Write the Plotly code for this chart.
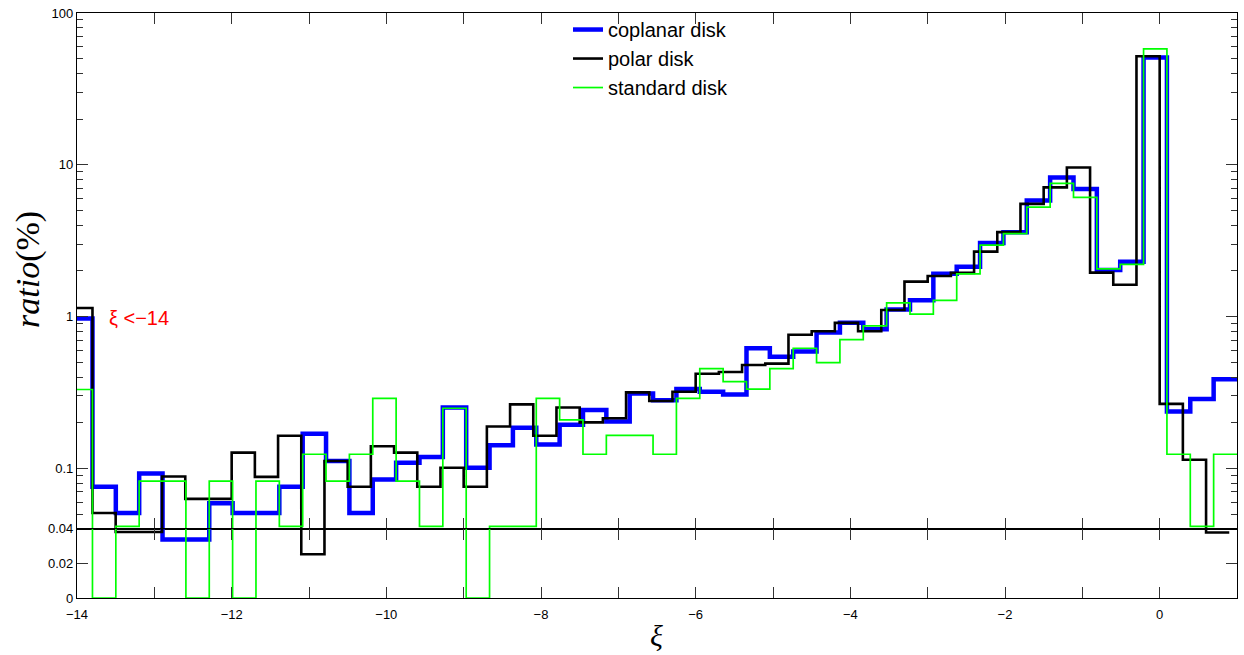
import numpy as np
import plotly.graph_objects as go
from plotly.subplots import make_subplots

# ---------------- data ----------------
series_names = ["coplanar disk", "polar disk", "standard disk"]
series_colors = ["#0000FF", "#000000", "#00FF00"]
series_widths = [4.5, 2.6, 1.7]

# overflow bin (xi < -14) drawn from -14 to -13.8
overflow_start = -14.0
first_edge = -13.8
n_bins = 49
bin_ends = [1.0, 0.9, 1.0]          # last edge of each series' regular bins

coplanar_overflow = 0.97
coplanar = [0.0758, 0.0508, 0.0925, 0.0339, 0.0339, 0.059, 0.0508, 0.0508, 0.0758, 0.169,
            0.112, 0.0508, 0.0845, 0.109, 0.119, 0.252, 0.101, 0.142, 0.185, 0.144,
            0.194, 0.243, 0.204, 0.312, 0.281, 0.333, 0.32, 0.307, 0.619, 0.545,
            0.59, 0.787, 0.91, 0.827, 1.116, 1.28, 1.915, 2.13, 3.05, 3.6,
            5.81, 8.25, 6.92, 2.03, 2.30, 51.0, 0.237, 0.287, 0.387]

polar_overflow = 1.14
polar = [0.0508, 0.0382, 0.0382, 0.0884, 0.063, 0.063, 0.127, 0.088, 0.164, 0.0253,
         0.112, 0.0758, 0.140, 0.127, 0.0758, 0.101, 0.0758, 0.189, 0.264, 0.164,
         0.252, 0.201, 0.214, 0.317, 0.278, 0.32, 0.42, 0.432, 0.48, 0.49,
         0.76, 0.80, 0.91, 0.80, 1.105, 1.70, 1.85, 1.94, 2.68, 3.6,
         5.53, 7.1, 9.59, 1.95, 1.62, 51.9, 0.266, 0.114, 0.0379]

standard_overflow = 0.331
standard = [0.0, 0.0415, 0.0825, 0.0825, 0.0, 0.0825, 0.0, 0.0825, 0.0415, 0.124,
            0.0825, 0.124, 0.289, 0.0825, 0.0415, 0.249, 0.0, 0.0415, 0.0415, 0.289,
            0.209, 0.124, 0.165, 0.165, 0.124, 0.289, 0.454, 0.373, 0.333, 0.454,
            0.619, 0.498, 0.705, 0.87, 1.23, 1.04, 1.28, 1.915, 2.96, 3.52,
            5.26, 7.54, 6.11, 2.06, 2.21, 58.0, 0.124, 0.0415, 0.124]

overflows = [coplanar_overflow, polar_overflow, standard_overflow]
values = [coplanar, polar, standard]

x_tick_vals = list(range(-14, 2))
x_tick_text = [("\u2212" + str(-v) if v < 0 else str(v)) if v % 2 == 0 else "" for v in x_tick_vals]
top_tick_vals = [0.1, 1, 10, 100]
top_tick_text = ["0.1", "1", "10", "100"]
bottom_tick_vals = [0, 0.02, 0.04]
bottom_tick_text = ["0", "0.02", "0.04"]
split_value = 0.04
top_max = 100

# ---------------- figure ----------------
fig = make_subplots(rows=2, cols=1, shared_xaxes=True, vertical_spacing=0,
                    row_heights=[522, 70])

for name, color, width, ov, vals, end in zip(series_names, series_colors, series_widths,
                                             overflows, values, bin_ends):
    edges = np.linspace(first_edge, end, n_bins + 1)
    xs = [overflow_start] + list(edges)
    ys = [ov] + list(vals) + [vals[-1]]
    ys_top = [v if v > 0 else 1e-4 for v in ys]
    fig.add_trace(go.Scatter(x=xs, y=ys_top, mode="lines", line_shape="hv",
                             line=dict(color=color, width=width), name=name,
                             showlegend=True, legendgroup=name), row=1, col=1)
    fig.add_trace(go.Scatter(x=xs, y=ys, mode="lines", line_shape="hv",
                             line=dict(color=color, width=width), name=name,
                             showlegend=False, legendgroup=name), row=2, col=1)

minor_vals = []
for dec in [0.01, 0.1, 1, 10]:
    for m in range(2, 10):
        v = m * dec
        if split_value < v < top_max:
            minor_vals.append(v)

axis_common = dict(showline=True, linecolor="black", linewidth=1.3, mirror="ticks",
                   ticks="inside", tickcolor="#333333", tickwidth=1, showgrid=False,
                   zeroline=False, tickfont=dict(family="Liberation Sans", size=13, color="black"))

fig.update_xaxes(range=[-14, 1], tickmode="array", tickvals=x_tick_vals, ticktext=x_tick_text,
                 ticklen=11, ticklabelstandoff=4, **axis_common)
fig.update_xaxes(showticklabels=False, row=1, col=1)
fig.update_xaxes(showticklabels=True, row=2, col=1)

fig.update_yaxes(type="log", range=[np.log10(split_value), np.log10(top_max)], tickmode="array",
                 tickvals=top_tick_vals, ticktext=top_tick_text, ticklen=11,
                 minor=dict(tickvals=minor_vals, ticklen=6, ticks="inside", tickcolor="#333333"),
                 row=1, col=1, **axis_common)
fig.update_yaxes(range=[0, split_value], tickmode="array", tickvals=bottom_tick_vals,
                 ticktext=bottom_tick_text, ticklen=11, row=2, col=1, **axis_common)

W, H = 1244, 655
ml, mr, mt, mb = 77, 7, 6, 57
pw, ph = W - ml - mr, H - mt - mb

def px_to_paper(x, y):
    return (x - ml) / pw, (H - mb - y) / ph

ylx, yly = px_to_paper(28, 266)
xlx, xly = px_to_paper(656, 636)
rx, ry = px_to_paper(107, 315)
lgx, lgy = px_to_paper(568, 3)

fig.update_layout(
    width=W, height=H, margin=dict(l=ml, r=mr, t=mt, b=mb),
    paper_bgcolor="white", plot_bgcolor="white",
    legend=dict(x=lgx, y=lgy, xanchor="left", yanchor="top", bgcolor="rgba(0,0,0,0)",
                font=dict(family="Liberation Sans", size=20, color="black"), tracegroupgap=0),
    annotations=[
        dict(text="<i>ratio</i>(%)", xref="paper", yref="paper", x=ylx, y=yly,
             xanchor="center", yanchor="middle", textangle=-90, showarrow=False,
             font=dict(family="Liberation Serif", size=34, color="black")),
        dict(text="<i>\u03be</i>", xref="paper", yref="paper", x=xlx, y=xly,
             xanchor="center", yanchor="middle", showarrow=False,
             font=dict(family="Liberation Serif", size=30, color="black")),
        dict(text="\u03be <\u221214", xref="paper", yref="paper", x=rx, y=ry,
             xanchor="left", yanchor="middle", showarrow=False,
             font=dict(family="Liberation Sans", size=20, color="red")),
    ],
)

fig.write_html("out.html", config={"displayModeBar": False},
               post_script="document.body.style.margin='0';document.body.style.overflow='hidden';")
